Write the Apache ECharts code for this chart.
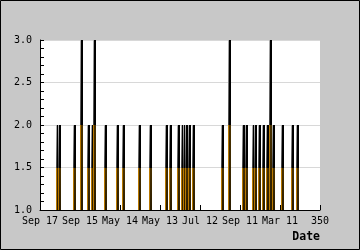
<!DOCTYPE html>
<html>
<head>
<meta charset="utf-8">
<script src="https://cdn.jsdelivr.net/npm/echarts@6/dist/echarts.min.js"></script>
<style>
html,body{margin:0;padding:0;background:#c8c8c8;}
#chart{width:360px;height:250px;}
</style>
</head>
<body>
<div id="chart"></div>
<script>
// x positions (day index on a 0..350 scale) and visit counts
const days   = [21, 24, 42, 51, 60, 65, 67, 81, 96, 104, 124, 137, 157, 162, 173, 177, 180, 183, 186, 191, 228, 236, 254, 258, 266, 269, 274, 279, 284, 288, 291, 303, 315, 321];
const visits = [2,  2,  2,  3,  2,  2,  3,  2,  2,  2,   2,   2,   2,   2,   2,   2,   2,   2,   2,   2,   2,   3,   2,   2,   2,   2,   2,   2,   2,   3,   2,   2,   2,   2];
const tickValues = [0, 50, 100, 150, 200, 250, 300, 350];
const tickLabels = ['Sep 17', 'Sep 15', 'May 14', 'May 13', 'Jul 12', 'Sep 11', 'Mar 11', '350'];
const yTicks = [1.0, 1.5, 2.0, 2.5, 3.0];

const data = days.map((d, i) => [d, visits[i]]);
const mono = 'DejaVu Sans Mono';

const chart = echarts.init(document.getElementById('chart'), null, {renderer: 'canvas'});
chart.setOption({
  backgroundColor: '#c8c8c8',
  animation: false,
  grid: {left: 40, right: 40, top: 40, bottom: 40, containLabel: false, outerBoundsMode: 'none',
         show: true, backgroundColor: '#fff', borderWidth: 0},
  xAxis: {
    type: 'value', min: 0, max: 350, interval: 50,
    axisLine: {show: true, onZero: false, lineStyle: {color: '#000', width: 1}},
    axisTick: {show: true, inside: true, length: 5, lineStyle: {color: '#000'}},
    splitLine: {show: false},
    axisLabel: {
      margin: 6, color: '#000', fontFamily: mono, fontSize: 10,
      formatter: v => { const k = tickValues.indexOf(v); return k >= 0 ? tickLabels[k] : ''; }
    },
    name: 'Date', nameLocation: 'end', nameGap: 0,
    nameTextStyle: {color: '#000', fontFamily: mono, fontWeight: 'bold', fontSize: 11.5, align: 'right', verticalAlign: 'top', padding: [21, 0, 0, 0]}
  },
  yAxis: {
    type: 'value', min: yTicks[0], max: yTicks[yTicks.length - 1], interval: 0.5,
    axisLine: {show: true, lineStyle: {color: '#000', width: 1}},
    axisTick: {show: true, inside: true, length: 4, lineStyle: {color: '#000'}},
    minorTick: {show: true, splitNumber: 5, length: 4, lineStyle: {color: '#000'}},
    splitLine: {show: true, lineStyle: {color: '#d8d8d8', width: 1}},
    axisLabel: {margin: 8, color: '#000', fontFamily: mono, fontSize: 10, formatter: v => v.toFixed(1)},
    name: 'Vists', nameLocation: 'middle', nameGap: 25,
    nameTextStyle: {color: '#000', fontFamily: mono, fontWeight: 'bold', fontSize: 11.5}
  },
  graphic: [{
    type: 'rect', silent: true, z: 100,
    shape: {x: 0.5, y: 0.5, width: 359, height: 249},
    style: {fill: 'none', stroke: '#000', lineWidth: 1}
  }],
  series: [{
    type: 'custom',
    data: data,
    clip: true,
    renderItem: function (params, api) {
      const x = api.value(0), v = api.value(1);
      const pBase = api.coord([x, 1]);
      const pMid = api.coord([x, (1 + v) / 2]);
      const pTop = api.coord([x, v]);
      const cx = Math.round(pBase[0]);
      const top = Math.round(pTop[1]), mid = Math.round(pMid[1]), base = Math.round(pBase[1]);
      return {
        type: 'group',
        children: [
          {type: 'rect', shape: {x: cx - 1, y: top, width: 1, height: mid - top},
           style: {fill: new echarts.graphic.LinearGradient(0, 0, 0, 1, [{offset: 0, color: '#b0b0b0'}, {offset: 1, color: '#404040'}])}},
          {type: 'rect', shape: {x: cx, y: top, width: 2, height: mid - top}, style: {fill: '#000'}},
          {type: 'rect', shape: {x: cx - 1, y: mid, width: 1, height: base - mid}, style: {fill: '#b87800'}},
          {type: 'rect', shape: {x: cx, y: mid, width: 2, height: base - mid},
           style: {fill: new echarts.graphic.LinearGradient(0, 0, 0, 1, [{offset: 0, color: '#4a3200'}, {offset: 1, color: '#2a1c00'}])}}
        ]
      };
    }
  }]
});
</script>
</body>
</html>
